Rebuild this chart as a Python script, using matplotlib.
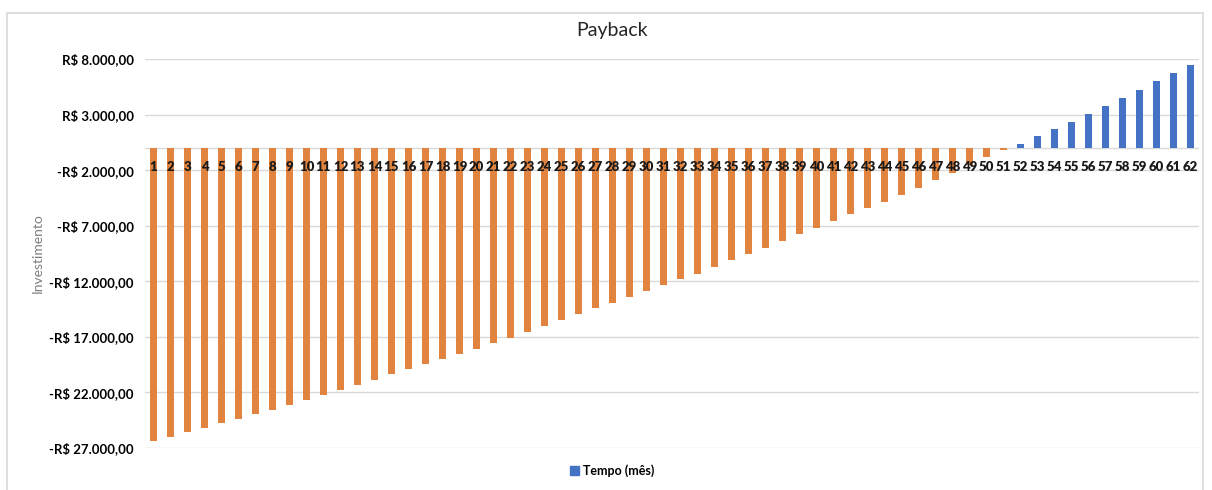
import matplotlib
matplotlib.use('Agg')
import matplotlib.pyplot as plt
from matplotlib.patches import Patch, Rectangle
from matplotlib.ticker import FuncFormatter

# months 1..62 and cumulative balance (R$)
meses = list(range(1, 63))
saldo = [
    -26400, -25985, -25590, -25175, -24780, -24365, -23970, -23555, -23133, -22683,
    -22233, -21783, -21306, -20856, -20370, -19920, -19444, -18994, -18517, -18067,
    -17581, -17077, -16565, -16025, -15512, -14972, -14432, -13928, -13416, -12903,
    -12363, -11814, -11319, -10743, -10113, -9546, -8980, -8350, -7774, -7207,
    -6577, -5974, -5408, -4841, -4265, -3608, -2888, -2231, -1539, -846,
    -220, 351, 1044, 1728, 2357, 3050, 3743, 4463, 5210, 5992,
    6739, 7486,
]
y_ticks = [8000, 3000, -2000, -7000, -12000, -17000, -22000, -27000]

cor_pos = '#4472C4'
cor_neg = '#E0843F'


def reais(v, pos=None):
    s = f'{abs(v):,.2f}'.replace(',', 'X').replace('.', ',').replace('X', '.')
    return ('-R$ ' if v < 0 else 'R$ ') + s


def main():
    plt.rcParams['font.family'] = ['Lato', 'DejaVu Sans']

    fig = plt.figure(figsize=(12.12, 4.9), dpi=100)
    ax = fig.add_axes([145 / 1212, 42 / 490, 1054 / 1212, 389 / 490])

    # light border around the chart area
    fig.patches.append(Rectangle((7 / 1212, -0.01), 1196 / 1212, 482 / 490,
                                 transform=fig.transFigure, fill=False,
                                 edgecolor='#D9D9D9', lw=1.2))

    cores = [cor_pos if v >= 0 else cor_neg for v in saldo]
    ax.bar(meses, saldo, width=0.36, color=cores, zorder=2)

    ax.set_xlim(0.5, 62.5)
    ax.set_ylim(-27000, 8000)
    ax.set_yticks(y_ticks)
    ax.yaxis.set_major_formatter(FuncFormatter(reais))
    ax.grid(axis='y', color='#D9D9D9', lw=1, zorder=0)

    # category labels sit just under the zero line, on top of the bars
    ax.set_xticks([])
    ax.axhline(0, color='#D9D9D9', lw=1, zorder=1)
    for m in meses:
        ax.annotate(str(m), (m, 0), xytext=(0, -14), textcoords='offset points',
                    ha='center', va='center', fontsize=9.5, fontweight='heavy',
                    color='#1a1a1a', zorder=5)

    for s in ax.spines.values():
        s.set_visible(False)
    ax.tick_params(axis='y', length=0, pad=8)
    for lbl in ax.get_yticklabels():
        lbl.set_fontweight('bold')
        lbl.set_fontsize(9.5)

    ax.set_ylabel('Investimento', fontsize=10, color='#7F7F7F')
    ax.yaxis.set_label_coords(-(145 - 44) / 1054, 0.5)
    fig.text(0.505, 0.937, 'Payback', ha='center', va='center', fontsize=14, color='#262626')

    fig.legend(handles=[Patch(color=cor_pos, label='Tempo (mês)')],
               loc='center', bbox_to_anchor=(0.505, 0.04), frameon=False,
               prop={'weight': 'bold', 'size': 9}, handlelength=0.7, handleheight=0.7,
               handletextpad=0.3)

    plt.savefig('out.png', dpi=100)


if __name__ == '__main__':
    main()
